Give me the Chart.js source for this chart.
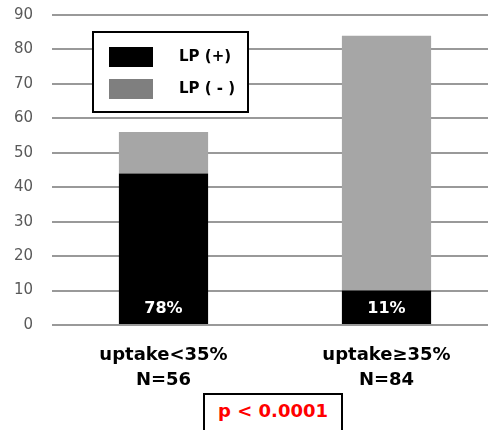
<!DOCTYPE html>
<html>
<head>
<meta charset="utf-8">
<script src="https://cdn.jsdelivr.net/npm/chart.js@4"></script>
<style>
    html, body { margin: 0; padding: 0; background: #fff; overflow: hidden; }
    #contenedor { position: relative; width: 500px; height: 430px; }
    #pValor {
        position: absolute; left: 203px; top: 393px; width: 136px; height: 50px;
        border: 2px solid #000; box-sizing: content-box; background: #fff;
        color: #ff0000; font: bold 18px "DejaVu Sans", sans-serif;
        text-align: center; line-height: 22px; padding-top: 5px;
    }
</style>
</head>
<body>
<div id="contenedor">
    <canvas id="miGrafico" width="500" height="430"></canvas>
    <div id="pValor">p &lt; 0.0001</div>
</div>
<script>
// Datos
const categorias = [["uptake<35%", "N=56"], ["uptake\u226535%", "N=84"]];
const lpPositivo = [44, 10];
const lpNegativo = [12, 74];
const porcentajes = ["78%", "11%"];
const etiquetasSerie = ["LP (+)", "LP ( - )"];
const coloresBarra = ["#000000", "#a6a6a6"];
const coloresLeyenda = ["#000000", "#7f7f7f"];

// Porcentaje dentro de la barra negra
const etiquetaPorcentaje = {
    id: 'etiquetaPorcentaje',
    afterDatasetsDraw(chart) {
        const ctx = chart.ctx;
        const meta = chart.getDatasetMeta(0);
        const base = chart.scales.y.getPixelForValue(0);
        ctx.save();
        ctx.fillStyle = '#fff';
        ctx.font = 'bold 16px "DejaVu Sans"';
        ctx.textAlign = 'center';
        ctx.textBaseline = 'middle';
        meta.data.forEach((barra, i) => {
            ctx.fillText(porcentajes[i], barra.x, base - 16);
        });
        ctx.restore();
    }
};

// Leyenda con recuadro
const leyendaCaja = {
    id: 'leyendaCaja',
    afterDatasetsDraw(chart) {
        const ctx = chart.ctx;
        const izq = 93, arr = 32, ancho = 155, alto = 80;
        ctx.save();
        ctx.fillStyle = '#fff';
        ctx.fillRect(izq, arr, ancho, alto);
        ctx.lineWidth = 2;
        ctx.strokeStyle = '#000';
        ctx.strokeRect(izq, arr, ancho, alto);
        chart.data.datasets.forEach((ds, i) => {
            const y = arr + 15 + i * 32;
            ctx.fillStyle = coloresLeyenda[i];
            ctx.fillRect(izq + 16, y, 44, 20);
            ctx.fillStyle = '#000';
            ctx.font = 'bold 15px "DejaVu Sans"';
            ctx.textBaseline = 'middle';
            ctx.fillText(ds.label, izq + 86, y + 10);
        });
        ctx.restore();
    }
};

const grafico = new Chart(document.getElementById('miGrafico'), {
    type: 'bar',
    data: {
        labels: categorias,
        datasets: [
            { label: etiquetasSerie[0], data: lpPositivo, backgroundColor: coloresBarra[0] },
            { label: etiquetasSerie[1], data: lpNegativo, backgroundColor: coloresBarra[1] },
        ],
    },
    options: {
        responsive: false,
        animation: false,
        layout: { padding: { left: 14, right: 2, top: 15, bottom: 0 } },
        datasets: { bar: { categoryPercentage: 1, barPercentage: 0.4 } },
        plugins: {
            legend: { display: false },
            tooltip: { enabled: false },
        },
        scales: {
            x: {
                stacked: true,
                grid: { display: false, drawTicks: false },
                border: { display: false },
                ticks: {
                    color: '#000',
                    padding: 18,
                    font: { family: 'DejaVu Sans', size: 18, weight: 'bold', lineHeight: 1.4 },
                },
                afterFit(scale) { scale.height = 105; },
            },
            y: {
                stacked: true,
                min: 0,
                max: 90,
                grid: { color: '#999999', lineWidth: 2, drawTicks: false },
                border: { display: false },
                ticks: {
                    stepSize: 10,
                    color: '#595959',
                    padding: 19,
                    font: { family: 'DejaVu Sans', size: 15 },
                },
                afterFit(scale) {
                    scale.width = 38;
                    scale.paddingTop = 9;
                    scale.paddingBottom = 9;
                },
            },
        },
    },
    plugins: [etiquetaPorcentaje, leyendaCaja],
});
</script>
</body>
</html>
